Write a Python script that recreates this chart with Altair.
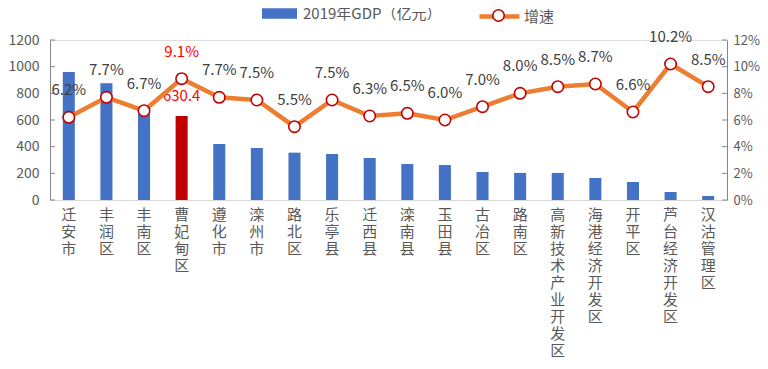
import altair as alt
import pandas as pd

cats = ['迁安市', '丰润区', '丰南区', '曹妃甸区', '遵化市', '滦州市', '路北区', '乐亭县', '迁西县',
        '滦南县', '玉田县', '古冶区', '路南区', '高新技术产业开发区', '海港经济开发区', '开平区',
        '芦台经济开发区', '汉沽管理区']
gdp = [960, 875, 690, 630.4, 420, 390, 355, 345, 315, 270, 262, 210, 203, 203, 165, 135, 60, 30]
growth = [6.2, 7.7, 6.7, 9.1, 7.7, 7.5, 5.5, 7.5, 6.3, 6.5, 6.0, 7.0, 8.0, 8.5, 8.7, 6.6, 10.2, 8.5]
left_ticks = [0, 200, 400, 600, 800, 1000, 1200]
right_ticks = [0, 2, 4, 6, 8, 10, 12]

HL = '曹妃甸区'
GDP_NAME = '2019年GDP（亿元）'
GR_NAME = '增速'
GR_MARK = '增速 '
FONT = 'Noto Sans CJK SC'

df = pd.DataFrame({'cat': cats, 'gdp': gdp, 'g': growth})
df['series'] = [('hl' if c == HL else GDP_NAME) for c in cats]
df['gs'] = GR_NAME
df['gm'] = GR_MARK
df['glabel'] = [f'{v:.1f}%' for v in growth]
lt = pd.DataFrame({'t': left_ticks})
rt = pd.DataFrame({'t': right_ticks})

W, H = 677, 160

xaxis = alt.Axis(labelAngle=0, labelExpr="split(datum.label, '')",
                 labelBaseline='top', labelLineHeight=17, labelFontSize=15,
                 labelColor='#595959', labelPadding=7, ticks=False,
                 domainColor='#D9D9D9', domainWidth=1.2, labelFont=FONT)
xscale = alt.Scale(paddingInner=0.68, paddingOuter=0.34)
xenc = alt.X('cat:N', sort=cats, title=None, scale=xscale, axis=xaxis)

ly_scale = alt.Scale(domain=[0, 1200])
ry_scale = alt.Scale(domain=[0, 12])
laxis = alt.Axis(values=left_ticks, grid=False, ticks=False, labelPadding=11, format='d',
                 labelFontSize=14, labelColor='#595959', domainColor='#868686',
                 labelFont=FONT)
raxis = alt.Axis(orient='right', values=right_ticks, grid=False, ticks=False,
                 labelPadding=6, labelFontSize=13, labelColor='#595959',
                 domainColor='#868686', labelExpr="datum.value + '%'", labelFont=FONT)


def ly(field):
    return alt.Y(field, scale=ly_scale, title=None, axis=laxis)


def ry(field):
    return alt.Y(field, scale=ry_scale, title=None, axis=raxis)


bars = alt.Chart(df).mark_bar().encode(
    x=xenc,
    y=ly('gdp:Q'),
    color=alt.Color('series:N', scale=alt.Scale(domain=[GDP_NAME, 'hl'],
                                                range=['#4472C4', '#C00000']),
                    legend=alt.Legend(orient='none', legendX=212, legendY=-44, title=None,
                                      values=[GDP_NAME], padding=0, labelLimit=400,
                                      symbolType='M-1,-0.3 h2 v0.6 h-2 z', symbolSize=1225,
                                      symbolStrokeWidth=0,
                                      labelFontSize=15, labelColor='#595959', labelFont=FONT,
                                      labelOffset=6)),
)

lticks = alt.Chart(lt).mark_rule(color='#868686').encode(
    y=ly('t:Q'), x=alt.value(0), x2=alt.value(5))

bar_label = alt.Chart(df).transform_filter(alt.datum.cat == HL).mark_text(
    color='#FF0000', fontSize=15, dy=-20, baseline='middle', font=FONT).encode(
    x=xenc, y=ly('gdp:Q'),
    text=alt.Text('gdp:Q', format='.1f'))

left = alt.layer(bars, lticks, bar_label)

line = alt.Chart(df).mark_line(strokeWidth=4.5).encode(
    x=xenc,
    y=ry('g:Q'),
    stroke=alt.Stroke('gs:N', scale=alt.Scale(domain=[GR_NAME], range=['#ED7D31']),
                      legend=alt.Legend(orient='none', legendX=427, legendY=-46, title=None,
                                        padding=0, symbolType='stroke', symbolSize=1600,
                                        symbolStrokeWidth=4.5, labelFontSize=15,
                                        labelColor='#595959', labelFont=FONT, labelOffset=2)),
)

points = alt.Chart(df).mark_point(filled=False, fill='white', fillOpacity=1,
                                  strokeWidth=1.6, size=130, opacity=1, shape='circle').encode(
    x=xenc,
    y=ry('g:Q'),
    color=alt.Color('gm:N', scale=alt.Scale(domain=[GR_MARK], range=['#C00000']),
                    legend=alt.Legend(orient='none', legendX=441, legendY=-32, title=None,
                                      padding=0, symbolSize=130, symbolType='circle',
                                      symbolFillColor='white', symbolStrokeWidth=1.6,
                                      symbolOpacity=1,
                                      labelOpacity=0, labelFontSize=15)),
)

rticks = alt.Chart(rt).mark_rule(color='#868686').encode(
    y=ry('t:Q'), x=alt.value(W - 5), x2=alt.value(W))

texts = alt.Chart(df).mark_text(fontSize=15, dy=-27, baseline='middle', font=FONT).encode(
    x=xenc,
    y=ry('g:Q'),
    text='glabel:N',
    color=alt.condition(alt.datum.cat == HL, alt.value('#FF0000'), alt.value('#404040')),
)

right = alt.layer(line, points, rticks, texts)

chart = alt.layer(left, right).resolve_scale(y='independent', color='independent').properties(
    width=W, height=H,
    autosize=alt.AutoSizeParams(type='none'),
    padding={'left': 42, 'top': 32, 'right': 33, 'bottom': 161},
).configure_view(stroke=None).configure(background='white')

chart.save("out.html", embed_options={"renderer": "svg", "actions": False})
